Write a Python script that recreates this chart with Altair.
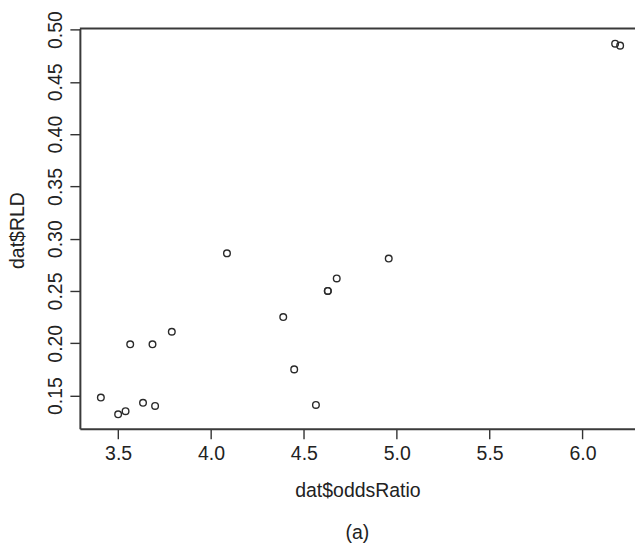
import altair as alt
import pandas as pd

odds_ratio = [3.407, 3.500, 3.540, 3.565, 3.634, 3.685, 3.699, 3.789, 4.086,
              4.389, 4.448, 4.565, 4.629, 4.629, 4.677, 4.957, 6.176, 6.203]
rld = [0.148, 0.132, 0.135, 0.199, 0.143, 0.199, 0.140, 0.211, 0.286,
       0.225, 0.175, 0.141, 0.250, 0.250, 0.262, 0.281, 0.4866, 0.4847]
x_ticks = [3.5, 4.0, 4.5, 5.0, 5.5, 6.0]
y_ticks = [0.15, 0.20, 0.25, 0.30, 0.35, 0.40, 0.45, 0.50]

df = pd.DataFrame({"oddsRatio": odds_ratio, "RLD": rld})

FONT = "Liberation Sans"
FS = 19.5
INK = "#333333"
FRAME = "#3a3a3a"
W, H = 556, 401

points = alt.Chart(df).mark_point(
    shape="circle", filled=False, size=44, stroke="#2a2a2a", strokeWidth=1.4, opacity=1
).encode(
    x=alt.X("oddsRatio:Q",
            scale=alt.Scale(domain=[3.294, 6.283], nice=False, zero=False),
            axis=alt.Axis(values=x_ticks, format=".1f", title="dat$oddsRatio",
                          grid=False, domain=True, domainColor=FRAME,
                          domainWidth=2, tickSize=10, tickColor=INK,
                          tickWidth=1.4, labelFont=FONT, labelFontSize=FS,
                          labelColor="#222222", labelBaseline="middle",
                          labelPadding=15, titleFont=FONT, titleFontSize=FS,
                          titleFontWeight="normal", titleColor="#222222",
                          titleBaseline="middle", titleY=62, labelFlush=False)),
    y=alt.Y("RLD:Q",
            scale=alt.Scale(domain=[0.1182, 0.5012], nice=False, zero=False),
            axis=alt.Axis(values=y_ticks, format=".2f", title="dat$RLD",
                          grid=False, domain=True, domainColor=FRAME,
                          domainWidth=2, tickSize=10, tickColor=INK,
                          tickWidth=1.4, labelFont=FONT, labelFontSize=FS,
                          labelColor="#222222", labelAngle=-90,
                          labelAlign="center", labelBaseline="middle",
                          labelPadding=14, labelFlush=False, titleFont=FONT,
                          titleFontSize=FS, titleFontWeight="normal",
                          titleColor="#222222", titleAngle=-90,
                          titleAlign="center", titleBaseline="middle",
                          titleX=-62, titleY=202)),
)

top_line = alt.Chart(pd.DataFrame({"k": [0]})).mark_rule(
    color=FRAME, strokeWidth=2
).encode(x=alt.value(0), x2=alt.value(W), y=alt.value(0))

chart = alt.layer(points, top_line).properties(
    width=W,
    height=H,
    background="white",
    title=alt.TitleParams("(a)", orient="bottom", anchor="middle", font=FONT,
                          fontSize=FS, fontWeight="normal", color="#222222",
                          offset=24),
    autosize=alt.AutoSizeParams(type="none"),
    padding={"left": 80, "top": 28, "right": 0, "bottom": 116},
).configure_view(
    stroke=None, fill="white"
)

chart.save("out.html", embed_options={"renderer": "svg", "actions": False})
